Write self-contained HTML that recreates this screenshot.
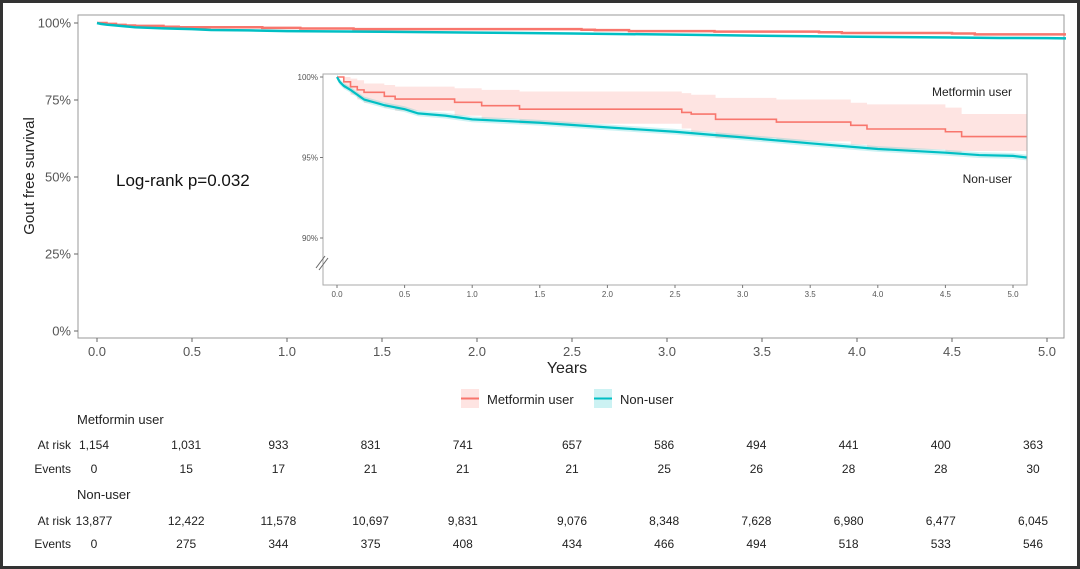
<!DOCTYPE html>
<html><head><meta charset="utf-8">
<style>
html,body{margin:0;padding:0;background:#fff;}
body{width:1080px;height:569px;overflow:hidden;font-family:"Liberation Sans",Arial,sans-serif;}
svg{display:block}
</style></head>
<body>
<svg id="chart" width="1080" height="569" viewBox="0 0 1080 569" xmlns="http://www.w3.org/2000/svg">
<rect x="1.5" y="1.5" width="1077" height="566" fill="#fff" stroke="#333" stroke-width="3"/>
<g id="main"></g>
<g id="inset"></g>
<g id="legend"></g>
<g id="table"></g>
</svg>
<script>
// ---- data ----
const metTimes = [0, 0.05, 0.1, 0.15, 0.2, 0.35, 0.43, 0.87, 1.07, 1.35, 2.55, 2.62, 2.8, 3.25, 3.8, 3.92, 4.5, 4.62];
const metSurv  = [100, 99.7, 99.4, 99.2, 99.05, 98.8, 98.63, 98.43, 98.22, 98.0, 97.8, 97.7, 97.37, 97.2, 97.0, 96.77, 96.6, 96.3];
const metUpper = [100, 100, 99.9, 99.8, 99.6, 99.5, 99.4, 99.3, 99.2, 99.1, 99.0, 98.9, 98.7, 98.6, 98.4, 98.3, 98.1, 97.7];
const metLower = [100, 99.3, 98.9, 98.6, 98.4, 98.1, 97.9, 97.6, 97.4, 97.1, 96.8, 96.6, 96.2, 96.0, 95.8, 95.5, 95.3, 95.4];
const nonTimes = [0, 0.02, 0.05, 0.1, 0.2, 0.35, 0.5, 0.6, 0.8, 1.0, 1.5, 2.0, 2.5, 3.0, 3.5, 4.0, 4.5, 4.75, 5.0, 5.1];
const nonSurv  = [100, 99.7, 99.45, 99.2, 98.6, 98.25, 98.0, 97.74, 97.6, 97.37, 97.16, 96.87, 96.6, 96.25, 95.88, 95.53, 95.3, 95.15, 95.1, 95.0];
const nonBand  = 0.18;
const endTime = 5.1;
const mainXTicks = [0, 0.5, 1, 1.5, 2, 2.5, 3, 3.5, 4, 4.5, 5];
const mainYTicks = [0, 25, 50, 75, 100];
const insetYTicks = [90, 95, 100];
const riskCols = ["0.0","0.5","1.0","1.5","2.0","2.5","3.0","3.5","4.0","4.5","5.0"];
const metAtRisk = ["1,154","1,031","933","831","741","657","586","494","441","400","363"];
const metEvents = ["0","15","17","21","21","21","25","26","28","28","30"];
const nonAtRisk = ["13,877","12,422","11,578","10,697","9,831","9,076","8,348","7,628","6,980","6,477","6,045"];
const nonEvents = ["0","275","344","375","408","434","466","494","518","533","546"];

const NS = "http://www.w3.org/2000/svg";
const RED = "#f8766d", TEAL = "#00bfc4";
function mk(parent, tag, attrs, text){
  const e = document.createElementNS(NS, tag);
  for (const k in attrs) e.setAttribute(k, attrs[k]);
  if (text !== undefined) e.textContent = text;
  parent.appendChild(e);
  return e;
}
function stepPath(times, vals, sx, sy, end){
  let d = "M" + sx(times[0]) + "," + sy(vals[0]);
  for (let i = 1; i < times.length; i++){
    d += " H" + sx(times[i]) + " V" + sy(vals[i]);
  }
  d += " H" + sx(end);
  return d;
}
function linePath(times, vals, sx, sy){
  return times.map((t,i)=>(i?"L":"M")+sx(t)+","+sy(vals[i])).join(" ");
}
function stepBand(times, up, lo, sx, sy, end){
  let pts = [];
  for (let i=0;i<times.length;i++){
    const t2 = i+1<times.length ? times[i+1] : end;
    pts.push([sx(times[i]), sy(up[i])], [sx(t2), sy(up[i])]);
  }
  for (let i=times.length-1;i>=0;i--){
    const t2 = i+1<times.length ? times[i+1] : end;
    pts.push([sx(t2), sy(lo[i])], [sx(times[i]), sy(lo[i])]);
  }
  return "M" + pts.map(p=>p.join(",")).join(" L") + " Z";
}
function lineBand(times, vals, w, sx, sy){
  const up = times.map((t,i)=>sx(t)+","+sy(vals[i]+w));
  const lo = times.map((t,i)=>sx(t)+","+sy(vals[i]-w)).reverse();
  return "M" + up.join(" L") + " L" + lo.join(" L") + " Z";
}

// ---- main plot ----
const main = document.getElementById("main");
const mx = t => 97 + t * 190;
const my = v => 331 - v * 3.08;
let e;
e = mk(main, "rect", {x:78, y:15, width:986, height:323, fill:"#fff", stroke:"#999", "stroke-width":1});


mainYTicks.forEach(v=>{
  mk(main,"line",{x1:74,x2:78,y1:my(v),y2:my(v),stroke:"#666"});
  e = mk(main,"text",{x:71,y:my(v)+4.5,"text-anchor":"end","font-size":13,fill:"#555"}, v+"%");
  
  
});
mainXTicks.forEach(t=>{
  mk(main,"line",{x1:mx(t),x2:mx(t),y1:338,y2:342,stroke:"#666"});
  e = mk(main,"text",{x:mx(t),y:356,"text-anchor":"middle","font-size":13,fill:"#555"}, t.toFixed(1));
  
  
});
e = mk(main,"text",{x:567,y:373,"text-anchor":"middle","font-size":16,fill:"#222"},"Years");


e = mk(main,"text",{x:0,y:0,"text-anchor":"middle","font-size":15,fill:"#222",transform:"translate(34,176) rotate(-90)"},"Gout free survival");


e = mk(main,"text",{x:116,y:186,"font-size":17,fill:"#111"},"Log-rank p=0.032");


e = mk(main,"path",{d:stepPath(metTimes,metSurv,mx,my,endTime),fill:"none",stroke:RED,"stroke-width":2.5});


e = mk(main,"path",{d:linePath(nonTimes,nonSurv,mx,my),fill:"none",stroke:TEAL,"stroke-width":2.5});



// ---- inset ----
const ins = document.getElementById("inset");
const ix = t => 337 + t * 135.2;
const iy = v => 77 + (100 - v) * 16.1;
e = mk(ins,"rect",{x:323,y:74,width:704,height:211,fill:"#fff",stroke:"#aaa","stroke-width":1});


e = mk(ins,"path",{d:stepBand(metTimes,metUpper,metLower,ix,iy,endTime),fill:RED,"fill-opacity":0.2});


e = mk(ins,"path",{d:lineBand(nonTimes,nonSurv,nonBand,ix,iy),fill:TEAL,"fill-opacity":0.2});


e = mk(ins,"path",{d:stepPath(metTimes,metSurv,ix,iy,endTime),fill:"none",stroke:RED,"stroke-width":1.6});


e = mk(ins,"path",{d:linePath(nonTimes,nonSurv,ix,iy),fill:"none",stroke:TEAL,"stroke-width":2.2});


insetYTicks.forEach(v=>{
  mk(ins,"line",{x1:320,x2:323,y1:iy(v),y2:iy(v),stroke:"#777"});
  e = mk(ins,"text",{x:318,y:iy(v)+3,"text-anchor":"end","font-size":8,fill:"#555"}, v+"%");
  
  
});
mainXTicks.forEach(t=>{
  mk(ins,"line",{x1:ix(t),x2:ix(t),y1:285,y2:288,stroke:"#777"});
  e = mk(ins,"text",{x:ix(t),y:297,"text-anchor":"middle","font-size":8,fill:"#555"}, t.toFixed(1));
  
  
});
e = mk(ins,"g",{});


mk(e,"line",{x1:316,y1:268,x2:325,y2:256,stroke:"#666"});
mk(e,"line",{x1:319,y1:270,x2:328,y2:258,stroke:"#666"});
e = mk(ins,"text",{x:1012,y:96,"text-anchor":"end","font-size":12,fill:"#222"},"Metformin user");


e = mk(ins,"text",{x:1012,y:183,"text-anchor":"end","font-size":12,fill:"#222"},"Non-user");



// ---- legend ----
const lg = document.getElementById("legend");
e = mk(lg,"g",{});


mk(e,"rect",{x:461,y:389,width:18,height:19,fill:RED,"fill-opacity":0.2});
mk(e,"line",{x1:461,x2:479,y1:398.5,y2:398.5,stroke:RED,"stroke-width":2});
mk(e,"text",{x:487,y:404,"font-size":13,fill:"#222"},"Metformin user");
e = mk(lg,"g",{});


mk(e,"rect",{x:594,y:389,width:18,height:19,fill:TEAL,"fill-opacity":0.2});
mk(e,"line",{x1:594,x2:612,y1:398.5,y2:398.5,stroke:TEAL,"stroke-width":2});
mk(e,"text",{x:620,y:404,"font-size":13,fill:"#222"},"Non-user");

// ---- risk table ----
const tb = document.getElementById("table");
const colX = i => 94 + i * 92.2 + (i >= 5 ? 17 : 0);
function title(y, txt, name){
  e = mk(tb,"text",{x:77,y:y,"font-size":13,fill:"#222"},txt);
  
  
}
function row(y, label, vals, name){
  e = mk(tb,"text",{x:71,y:y,"text-anchor":"end","font-size":12,fill:"#222"},label);
  
  
  vals.forEach((v,i)=>{
    e = mk(tb,"text",{x:colX(i),y:y,"text-anchor":"middle","font-size":12,fill:"#222"},v);
    
    
  });
}
title(424, "Metformin user", "table-metformin-title");
row(449, "At risk", metAtRisk, "metformin-at-risk");
row(473, "Events", metEvents, "metformin-events");
title(499, "Non-user", "table-nonuser-title");
row(525, "At risk", nonAtRisk, "nonuser-at-risk");
row(548, "Events", nonEvents, "nonuser-events");
</script>
</body></html>
